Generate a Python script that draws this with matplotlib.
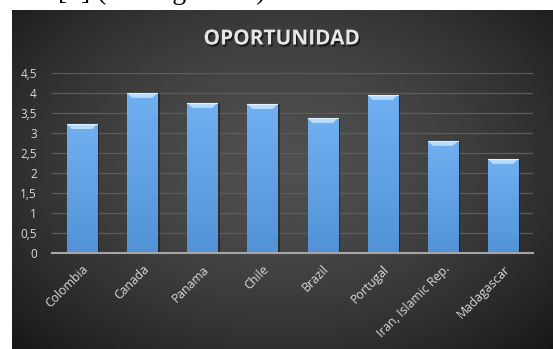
import numpy as np
import matplotlib.pyplot as plt
import matplotlib.patheffects as pe
from matplotlib.colors import LinearSegmentedColormap

# Daten
paises = ['Colombia', 'Canada', 'Panama', 'Chile', 'Brazil', 'Portugal',
          'Iran, Islamic Rep.', 'Madagascar']
valores = [3.22, 4.0, 3.75, 3.72, 3.37, 3.95, 2.8, 2.35]
yticks = [0, 0.5, 1, 1.5, 2, 2.5, 3, 3.5, 4, 4.5]
ytick_labels = ['0', '0,5', '1', '1,5', '2', '2,5', '3', '3,5', '4', '4,5']
titulo = 'OPORTUNIDAD'

W, H = 553, 349
fig = plt.figure(figsize=(W / 100, H / 100), dpi=100)
fig.patch.set_facecolor('white')

# Hintergrund mit radialem Verlauf
bg = fig.add_axes([12 / W, 0, 1 - 12 / W, 339 / H])
yy, xx = np.mgrid[-1:1:200j, -1:1:300j]
r = np.sqrt((xx * 0.9) ** 2 + ((yy + 0.1) * 0.8) ** 2)
grad = 0.31 - 0.15 * np.clip(r, 0, 1.3) ** 1.6
bg.imshow(grad, cmap='gray', vmin=0, vmax=1, aspect='auto',
          extent=[0, 1, 0, 1], interpolation='bilinear')
bg.set_axis_off()

# abgeschnittener Text oben (Dokument)
fig.text(58 / W, 1 + 1 / H, '[2] (ver Figura 10)', family='Liberation Serif',
         fontsize=20, color='black', va='baseline', ha='left')

ax = fig.add_axes([52 / W, 96 / H, 481 / W, 180 / H])
ax.set_facecolor('none')
x = np.arange(len(paises))
bw = 0.5

# Schatten
ax.bar(x + 0.04, valores, width=bw, color='black', alpha=0.35, zorder=2)
bars = ax.bar(x, valores, width=bw, color='#5ea0e4', edgecolor='#3f78b8',
              linewidth=0.6, zorder=3)

# vertikaler Verlauf in den Säulen
g = np.linspace(0, 1, 100).reshape(-1, 1)
cm = LinearSegmentedColormap.from_list('b', ['#5293d8', '#70aff0'])
for b in bars:
    x0, w, h = b.get_x(), b.get_width(), b.get_height()
    im = ax.imshow(g, cmap=cm, aspect='auto', origin='lower',
                   extent=[x0, x0 + w, 0, h], zorder=3.5)
    im.set_clip_path(b)
    # Fase oben
    dx, dy = 0.08, 0.12
    ax.fill([x0, x0 + w, x0 + w - dx, x0 + dx], [h, h, h - dy, h - dy],
            color='#b8ddfb', zorder=4, lw=0)
    ax.plot([x0, x0 + w], [h, h], color='#dff0ff', lw=0.8, zorder=4.5)

ax.set_xlim(-0.5, len(paises) - 0.5)
ax.set_ylim(0, 4.5)
ax.set_yticks(yticks)
ax.set_yticklabels(ytick_labels)
ax.yaxis.grid(True, color='#5c5c5c', lw=0.9, zorder=0)
ax.set_axisbelow(True)
for s in ['top', 'right', 'left']:
    ax.spines[s].set_visible(False)
ax.spines['bottom'].set_color('#a6a6a6')
ax.spines['bottom'].set_linewidth(1.5)
ax.spines['bottom'].set_zorder(6)
ax.tick_params(length=0, colors='#d9d9d9', labelsize=8.5)
ax.tick_params(axis='y', pad=11)
ax.set_xticks(x)
ax.set_xticklabels(paises, rotation=45, ha='right', rotation_mode='anchor',
                   family='Open Sans', fontsize=8.8)
ax.tick_params(axis='x', pad=7)
for t in ax.get_yticklabels():
    t.set_family('Open Sans')

fig.text(282 / W, (H - 39) / H, titulo, ha='center', va='center',
         fontsize=15, fontweight='bold', family='Open Sans', color='#e6e6e6',
         path_effects=[pe.withSimplePatchShadow(offset=(1, -1.5),
                                                shadow_rgbFace='black', alpha=0.6)])

fig.savefig('out.png', dpi=100)
